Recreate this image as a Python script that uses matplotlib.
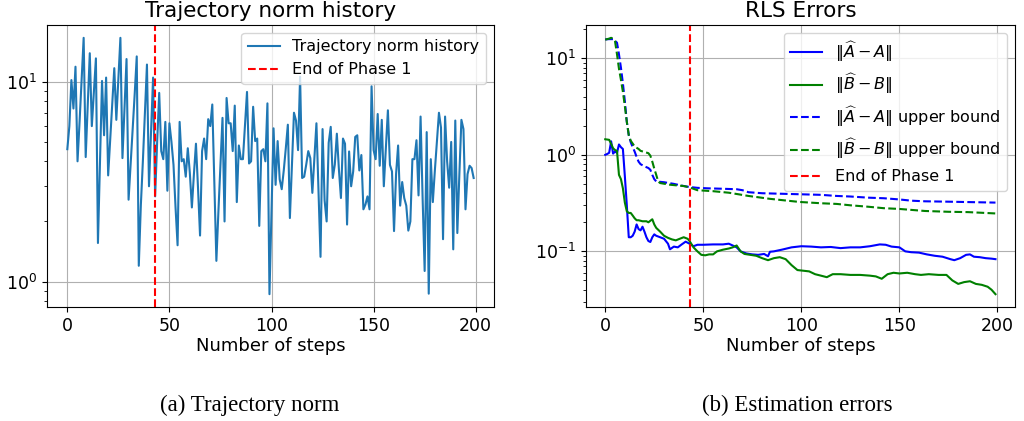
import matplotlib
matplotlib.use("Agg")
import matplotlib.pyplot as plt
import numpy as np

# left panel: trajectory norm, one value per step
traj_norm = [
    4.6, 6.0, 10.2, 7.35, 11.9, 4.0, 6.3, 10.2, 16.6, 4.2,
    7.6, 13.9, 6.0, 8.9, 13.1, 1.56, 4.0, 10.1, 5.4, 10.5,
    3.4, 5.1, 7.6, 11.7, 6.45, 10.4, 16.6, 4.15, 7.35, 13.0,
    2.57, 3.84, 5.75, 8.7, 13.4, 1.2, 2.4, 4.0, 7.0, 12.2,
    3.0, 5.6, 10.5, 2.67, 5.0, 8.8, 4.5, 4.1, 6.3, 2.85,
    6.2, 5.0, 3.84, 2.35, 1.52, 6.3, 4.0, 4.1, 3.35, 4.65,
    3.5, 2.35, 3.45, 4.9, 2.95, 1.7, 4.5, 5.2, 4.1, 6.5,
    6.0, 7.7, 3.2, 1.27, 2.25, 3.84, 6.6, 2.0, 8.3, 6.2,
    6.2, 4.5, 7.6, 2.5, 4.8, 4.1, 4.1, 6.1, 8.9, 3.9,
    4.0, 7.5, 5.05, 5.2, 1.9, 4.5, 4.6, 4.0, 7.8, 0.865,
    2.25, 5.85, 3.05, 5.05, 3.25, 2.9, 3.6, 4.65, 6.1, 2.08,
    3.84, 7.0, 6.4, 4.55, 10.6, 3.3, 3.35, 3.85, 4.5, 4.15,
    2.78, 4.15, 6.2, 2.85, 1.33, 5.8, 2.55, 2.0, 4.95, 5.95,
    3.3, 3.85, 5.5, 3.65, 2.62, 5.2, 4.9, 1.93, 4.48, 3.0,
    3.56, 5.3, 5.4, 3.6, 4.3, 2.3, 2.43, 2.67, 2.3, 9.5,
    4.55, 4.1, 6.9, 3.8, 6.45, 3.0, 4.65, 7.2, 3.84, 3.56,
    1.79, 3.45, 4.8, 2.4, 3.15, 2.62, 2.4, 1.8, 2.0, 4.1,
    4.1, 5.1, 2.7, 6.7, 2.62, 1.13, 5.6, 0.87, 4.1, 2.5,
    3.6, 5.0, 7.0, 5.9, 1.63, 6.7, 4.0, 2.95, 5.0, 1.45,
    6.4, 1.75, 3.45, 6.45, 5.8, 2.3, 3.45, 3.8, 3.7, 3.3,
]
phase1_end = 43

# right panel: RLS errors and their bounds (step, value)
a_err_steps = [0, 1, 2, 3, 4, 5, 6, 7, 8, 9, 10, 11, 12, 13, 14, 15, 16, 17, 18, 19,
               20, 21, 22, 23, 24, 25, 26, 28, 30, 32, 33, 35, 37, 39, 41, 43, 45, 47,
               50, 55, 60, 63, 65, 67, 69, 72, 75, 78, 81, 83, 84, 86, 90, 95, 100,
               105, 110, 115, 120, 125, 130, 135, 140, 143, 146, 150, 153, 156, 160,
               164, 168, 172, 176, 178, 181, 184, 186, 188, 191, 194, 197, 199]
a_err = [1.0, 1.02, 1.05, 1.38, 1.03, 1.08, 1.05, 1.28, 1.2, 1.15, 0.6, 0.3, 0.14,
         0.14, 0.145, 0.16, 0.19, 0.17, 0.165, 0.18, 0.16, 0.14, 0.128, 0.125, 0.14,
         0.15, 0.145, 0.14, 0.135, 0.12, 0.105, 0.112, 0.11, 0.118, 0.126, 0.12,
         0.113, 0.117, 0.117, 0.118, 0.118, 0.12, 0.115, 0.11, 0.1, 0.095, 0.093,
         0.092, 0.094, 0.089, 0.099, 0.1, 0.104, 0.11, 0.113, 0.112, 0.11, 0.111,
         0.108, 0.11, 0.11, 0.113, 0.118, 0.117, 0.112, 0.11, 0.1, 0.098, 0.097,
         0.093, 0.09, 0.088, 0.083, 0.081, 0.085, 0.092, 0.093, 0.088, 0.087,
         0.085, 0.084, 0.083]

b_err_steps = [0, 1, 2, 3, 4, 5, 6, 7, 8, 9, 10, 11, 12, 13, 14, 15, 16, 17, 19, 21,
               22, 24, 25, 26, 28, 30, 32, 34, 36, 38, 40, 42, 43, 45, 47, 49, 51, 53,
               55, 57, 60, 63, 65, 67, 69, 71, 74, 77, 80, 83, 86, 89, 92, 95, 98, 101,
               104, 107, 110, 113, 116, 120, 125, 130, 135, 138, 141, 144, 147, 150,
               154, 158, 161, 165, 170, 174, 177, 180, 183, 186, 189, 192, 195, 197, 199]
b_err = [1.45, 1.44, 1.43, 1.3, 1.17, 1.12, 1.1, 0.62, 0.56, 0.45, 0.32, 0.26, 0.25,
         0.25, 0.235, 0.22, 0.21, 0.21, 0.205, 0.205, 0.2, 0.215, 0.19, 0.175, 0.16,
         0.145, 0.138, 0.133, 0.13, 0.135, 0.14, 0.135, 0.128, 0.11, 0.1, 0.092,
         0.091, 0.093, 0.093, 0.1, 0.104, 0.107, 0.11, 0.115, 0.1, 0.094, 0.092, 0.09,
         0.085, 0.081, 0.085, 0.087, 0.083, 0.072, 0.064, 0.063, 0.062, 0.058, 0.056,
         0.054, 0.058, 0.058, 0.057, 0.057, 0.056, 0.055, 0.052, 0.058, 0.06, 0.059,
         0.06, 0.058, 0.057, 0.058, 0.057, 0.057, 0.05, 0.046, 0.048, 0.049, 0.046,
         0.045, 0.043, 0.04, 0.036]

a_bound_steps = [0, 2, 4, 5, 6, 7, 8, 9, 10, 11, 12, 13, 14, 15, 16, 17, 18, 20, 22,
                 23, 24, 25, 26, 30, 35, 40, 43, 47, 52, 60, 67, 70, 73, 80, 90, 100,
                 110, 118, 125, 134, 142, 150, 156, 163, 175, 185, 199]
a_bound = [15.7, 15.8, 15.8, 15.2, 14.5, 11.0, 8.0, 5.5, 3.6, 2.2, 1.6, 1.35, 1.2,
           1.08, 0.95, 0.85, 0.8, 0.76, 0.73, 0.7, 0.62, 0.56, 0.53, 0.52, 0.5, 0.475,
           0.464, 0.455, 0.45, 0.445, 0.44, 0.43, 0.41, 0.4, 0.395, 0.39, 0.385, 0.375,
           0.37, 0.36, 0.355, 0.345, 0.335, 0.33, 0.327, 0.324, 0.32]

b_bound_steps = [0, 2, 3, 4, 5, 6, 7, 8, 9, 10, 11, 12, 13, 15, 17, 18, 20, 22, 23, 24,
                 25, 26, 27, 28, 33, 40, 43, 47, 55, 63, 68, 73, 84, 99, 110, 118, 125,
                 134, 142, 150, 163, 175, 185, 199]
b_bound = [15.6, 16.0, 16.3, 16.0, 15.0, 11.0, 7.8, 6.0, 4.5, 3.2, 2.2, 1.6, 1.4,
           1.22, 1.15, 1.1, 1.07, 1.04, 0.98, 0.85, 0.72, 0.62, 0.53, 0.51, 0.49,
           0.475, 0.46, 0.43, 0.42, 0.405, 0.39, 0.375, 0.35, 0.325, 0.315, 0.31, 0.3,
           0.29, 0.28, 0.275, 0.262, 0.257, 0.255, 0.247]

fig = plt.figure(figsize=(10.24, 4.21), dpi=100)
ax_l = fig.add_axes([0.0459, 0.2708, 0.4365, 0.6698])
ax_r = fig.add_axes([0.572, 0.2708, 0.4192, 0.6698])

# trajectory norm
ax_l.semilogy(np.arange(len(traj_norm)), traj_norm, color="tab:blue",
              label="Trajectory norm history")
ax_l.axvline(phase1_end, color="r", linestyle="--", label="End of Phase 1")
ax_l.set_title("Trajectory norm history", fontsize=15.5)
ax_l.legend(fontsize=11.5, loc="upper right")

# RLS errors
ax_r.semilogy(a_err_steps, a_err, "b-", label=r"$\|\widehat{A}-A\|$")
ax_r.semilogy(b_err_steps, b_err, "g-", label=r"$\|\widehat{B}-B\|$")
ax_r.semilogy(a_bound_steps, a_bound, "b--", label=r"$\|\widehat{A}-A\|$ upper bound")
ax_r.semilogy(b_bound_steps, b_bound, "g--", label=r"$\|\widehat{B}-B\|$ upper bound")
ax_r.axvline(phase1_end, color="r", linestyle="--", label="End of Phase 1")
ax_r.set_title("RLS Errors", fontsize=15.5)
ax_r.legend(fontsize=11.5, loc="upper right")

for ax in [ax_l, ax_r]:
    ax.set_xlim(-9.95, 208.95)
    ax.set_xticks([0, 50, 100, 150, 200])
    ax.set_xlabel("Number of steps", fontsize=13, labelpad=2)
    ax.tick_params(labelsize=12.5)
    ax.grid(True, which="major")

fig.text(0.244, 0.036, "(a) Trajectory norm", family="Liberation Serif",
         fontsize=16.5, ha="center", va="center")
fig.text(0.779, 0.036, "(b) Estimation errors", family="Liberation Serif",
         fontsize=16.5, ha="center", va="center")

plt.savefig("out.png", dpi=100)
